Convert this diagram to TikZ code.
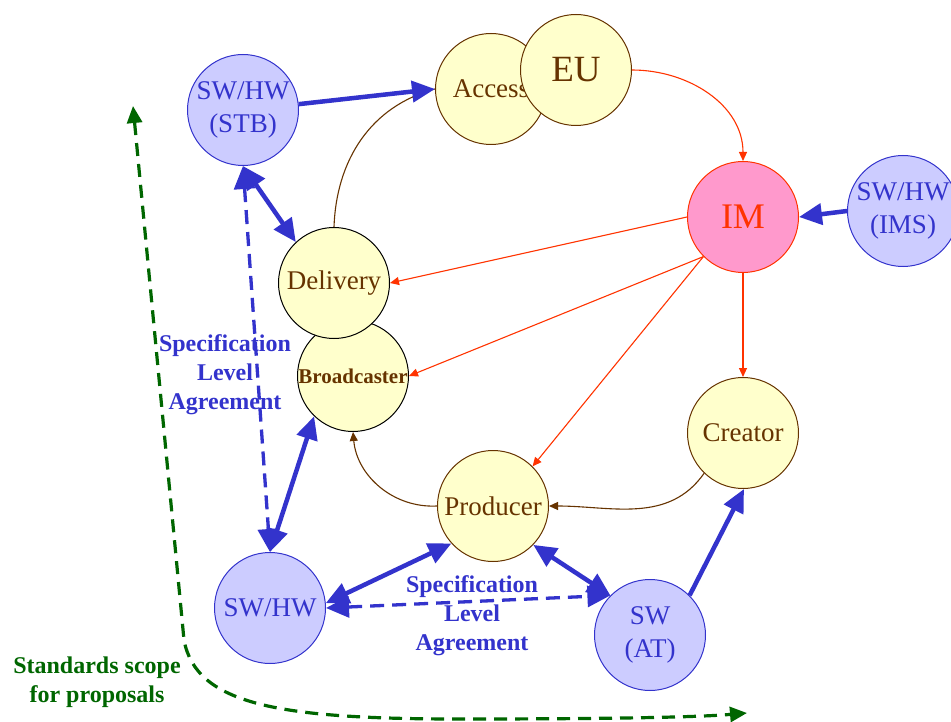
\documentclass[tikz,border=0pt]{standalone}
\usepackage{fontspec}
\setmainfont{Liberation Serif}
\usetikzlibrary{arrows.meta}

\definecolor{hwblue}{HTML}{3333CC}
\definecolor{hwfill}{HTML}{CCCCFF}
\definecolor{roleline}{HTML}{663300}
\definecolor{rolefill}{HTML}{FFFFCC}
\definecolor{imred}{HTML}{FF3300}
\definecolor{imfill}{HTML}{FF99CC}
\definecolor{scopegreen}{HTML}{006600}

\tikzset{
  basecircle/.style={circle, line width=1pt, minimum size=111pt, inner sep=0pt, align=center,
    font=\fontsize{27}{32.5}\selectfont},
  hwnode/.style={basecircle, draw=hwblue, fill=hwfill, text=hwblue},
  rolenode/.style={basecircle, draw=roleline, fill=rolefill, text=roleline},
  imnode/.style={basecircle, draw=imred, fill=imfill, text=imred, font=\fontsize{36}{40}\selectfont},
  bigtip/.tip={Triangle[length=23pt,width=21pt]},
  smalltip/.tip={Triangle[length=9pt,width=8pt]},
  hwlink/.style={draw=hwblue, line width=4.5pt},
  slalink/.style={draw=hwblue, line width=3.3pt, dash pattern=on 14pt off 8pt},
  infolink/.style={draw=imred, line width=1.1pt, -smalltip},
  flowlink/.style={draw=roleline, line width=1.1pt},
  scopelink/.style={draw=scopegreen, line width=3.2pt, dash pattern=on 13pt off 8pt,
    {Triangle[length=17pt,width=15pt]}-{Triangle[length=17pt,width=15pt]}},
  slalabel/.style={text=hwblue, align=center, font=\fontsize{24}{29}\selectfont\bfseries},
  scopelabel/.style={text=scopegreen, align=center, font=\fontsize{24}{29}\selectfont\bfseries},
}

\begin{document}
\begin{tikzpicture}[x=1pt, y=-1pt]
  \useasboundingbox (0,0) rectangle (951,722);

  % hardware / software circles
  \node[hwnode] (stb)  at (243,110) {SW/HW\\(STB)};
  \node[hwnode] (ims)  at (903,211) {SW/HW\\(IMS)};
  \node[hwnode] (swhw) at (270,608) {SW/HW};
  \node[hwnode] (swat) at (650,635) {SW\\(AT)};

  % role circles
  \node[rolenode] (access) at (491,89) {Access};
  \node[rolenode, font=\fontsize{37}{40}\selectfont] (eu) at (576,70) {EU};
  \node[rolenode, draw=black, font=\fontsize{21}{24}\selectfont\bfseries] (broad) at (353,376) {Broadcaster};
  \node[rolenode, draw=black] (deliv) at (334,283) {Delivery};
  \node[rolenode] (prod) at (493,506) {Producer};
  \node[rolenode] (creat) at (743,433) {Creator};
  \node[imnode] (im) at (743,217) {IM};

  % content flow between roles
  \draw[flowlink] (deliv.north) to[out=88,in=195] (access.west);
  \draw[flowlink, -smalltip] (creat.226) to[out=235,in=0] (prod.east);
  \draw[flowlink, -smalltip] (prod.west) to[out=183,in=-85] (broad.south);

  % information management links
  \draw[infolink] (eu.east) to[out=0,in=90] (im.north);
  \draw[infolink] (im.west) -- (deliv.east);
  \draw[infolink] (im.225) -- (broad.east);
  \draw[infolink] (im.225) -- (prod.45);
  \draw[infolink] (im.south) -- (creat.north);

  % equipment links
  \draw[hwlink, -bigtip] (stb.6) -- (access.west);
  \draw[hwlink, bigtip-bigtip] (stb.south) -- (deliv.133);
  \draw[hwlink, bigtip-bigtip] (swhw.north) -- (broad.226);
  \draw[hwlink, bigtip-bigtip] (swhw.5) -- (prod.222);
  \draw[hwlink, bigtip-bigtip] (prod.-44) -- (swat.135);
  \draw[hwlink, -bigtip] (swat.45) -- (creat.-89);
  \draw[hwlink, -bigtip] (ims.west) -- (im.east);

  % specification level agreements
  \draw[slalink, bigtip-bigtip] (stb.south) -- (swhw.north);
  \draw[slalink, bigtip-bigtip] (swhw.east) -- (swat.135);
  \node[slalabel] (slaleft) at (225,375) {Specification\\Level\\Agreement};
  \node[slalabel] (slabottom) at (472,616) {Specification\\Level\\Agreement};

  % scope of the standards
  \coordinate (gtop) at (133,106);
  \coordinate (gbend) at (184,640);
  \coordinate (gmid) at (460,719);
  \coordinate (gend) at (747,713);
  \draw[scopelink] (gtop) -- (gbend) .. controls (196,705) and (280,719) .. (gmid)
    .. controls (620,719) and (700,717) .. (gend);
  \node[scopelabel] (scope) at (97,682) {Standards scope\\for proposals};
\end{tikzpicture}
\end{document}
